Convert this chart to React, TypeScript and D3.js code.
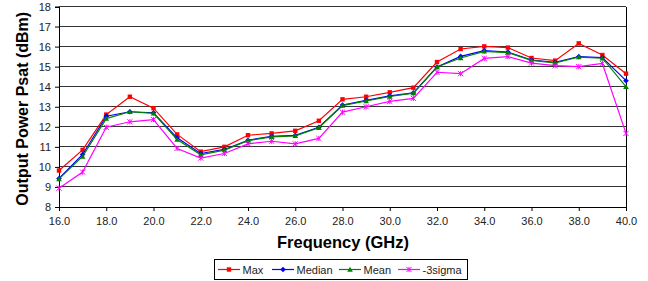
import {useRef, useEffect} from 'react'
import * as d3 from 'd3'

const freqs = [16,17,18,19,20,21,22,23,24,25,26,27,28,29,30,31,32,33,34,35,36,37,38,39,40]
const maxVals = [9.82,10.85,12.61,13.5,12.93,11.62,10.76,11.0,11.58,11.67,11.8,12.3,13.37,13.5,13.72,13.95,15.23,15.88,16.01,15.95,15.43,15.3,16.16,15.58,14.65]
const medianVals = [9.42,10.62,12.53,12.75,12.7,11.45,10.67,10.87,11.33,11.53,11.57,11.98,13.09,13.32,13.54,13.69,14.98,15.51,15.8,15.73,15.33,15.21,15.5,15.45,14.3]
const meanVals = [9.4,10.52,12.41,12.75,12.67,11.37,10.6,10.84,11.31,11.5,11.55,11.95,13.06,13.29,13.51,13.68,14.98,15.43,15.76,15.7,15.31,15.19,15.48,15.42,14.0]
const sigmaVals = [8.94,9.74,11.98,12.25,12.36,10.92,10.44,10.67,11.15,11.28,11.15,11.42,12.73,13.0,13.27,13.42,14.72,14.65,15.41,15.5,15.18,15.05,15.0,15.16,11.67]
const xTicks = [16,18,20,22,24,26,28,30,32,34,36,38,40]
const yTicks = [8,9,10,11,12,13,14,15,16,17,18]

const series = [
  {name: 'Max', values: maxVals, color: '#ff0000', marker: 'square'},
  {name: 'Median', values: medianVals, color: '#0000ff', marker: 'diamond'},
  {name: 'Mean', values: meanVals, color: '#008000', marker: 'triangle'},
  {name: '-3sigma', values: sigmaVals, color: '#ff00ff', marker: 'star'},
]

function drawMarker(g: any, kind: string, x: number, y: number, color: string) {
  if (kind === 'square') {
    g.append('rect').attr('x', x - 2.2).attr('y', y - 2.2).attr('width', 4.4).attr('height', 4.4).attr('fill', color)
  } else if (kind === 'diamond') {
    g.append('path').attr('d', `M${x},${y-2.8}L${x+2.8},${y}L${x},${y+2.8}L${x-2.8},${y}Z`).attr('fill', color)
  } else if (kind === 'triangle') {
    g.append('path').attr('d', `M${x},${y-2.8}L${x+2.8},${y+2.2}L${x-2.8},${y+2.2}Z`).attr('fill', color)
  } else {
    g.append('path').attr('d', `M${x-2.6},${y-2.6}L${x+2.6},${y+2.6}M${x-2.6},${y+2.6}L${x+2.6},${y-2.6}M${x},${y-2.6}L${x},${y+2.6}`)
      .attr('stroke', color).attr('stroke-width', 1).attr('fill', 'none')
  }
}

function App() {
  const ref = useRef<SVGSVGElement>(null)
  useEffect(() => {
    const svg = d3.select(ref.current)
    svg.selectAll('*').remove()
    const font = 'Liberation Sans, Arial, sans-serif'

    const x = d3.scaleLinear().domain([16, 40]).range([59, 626])
    const y = d3.scaleLinear().domain([8, 18]).range([207, 6.5])

    // gridlines
    svg.append('g').selectAll('line').data(yTicks.slice(1)).enter().append('line')
      .attr('x1', x(16)).attr('x2', x(40))
      .attr('y1', d => y(d)).attr('y2', d => y(d))
      .attr('stroke', '#333').attr('stroke-width', 1).attr('shape-rendering', 'crispEdges')
    // right border
    svg.append('line').attr('x1', x(40)).attr('x2', x(40)).attr('y1', y(18)).attr('y2', y(8))
      .attr('stroke', '#000').attr('shape-rendering', 'crispEdges')

    const yAxis = svg.append('g').attr('transform', `translate(${x(16)},0)`)
      .call(d3.axisLeft(y).tickValues(yTicks).tickSize(4).tickFormat(d3.format('d')))
    yAxis.select('.domain').attr('stroke', '#000').attr('shape-rendering', 'crispEdges')
    yAxis.selectAll('.tick line').attr('stroke', '#000')
    yAxis.selectAll('text').style('font', `11px ${font}`).attr('fill', '#222').attr('x', -8)

    const xAxis = svg.append('g').attr('transform', `translate(0,${y(8)})`)
      .call(d3.axisBottom(x).tickValues(xTicks).tickSize(4).tickFormat(d3.format('.1f')))
    xAxis.select('.domain').attr('stroke', '#000').attr('shape-rendering', 'crispEdges')
    xAxis.selectAll('.tick line').attr('stroke', '#000')
    xAxis.selectAll('text').style('font', `11px ${font}`).attr('fill', '#222').attr('y', 10)

    const line = d3.line<number>().x((d, i) => x(freqs[i])).y(d => y(d))
    series.forEach(s => {
      const g = svg.append('g')
      g.append('path').datum(s.values).attr('d', line).attr('fill', 'none')
        .attr('stroke', s.color).attr('stroke-width', 1.2)
      s.values.forEach((v, i) => drawMarker(g, s.marker, x(freqs[i]), y(v), s.color))
    })

    svg.append('text')
      .attr('transform', `translate(28,${(y(8) + y(18)) / 2 + 2})rotate(-90)`)
      .attr('text-anchor', 'middle')
      .style('font', `bold 16px ${font}`)
      .text('Output Power Psat (dBm)')

    svg.append('text')
      .attr('x', 343).attr('y', 248)
      .attr('text-anchor', 'middle')
      .style('font', `bold 16.5px ${font}`)
      .text('Frequency (GHz)')

    // legend
    const lg = svg.append('g')
    lg.append('rect').attr('x', 214.5).attr('y', 259.5).attr('width', 253).attr('height', 20)
      .attr('fill', '#fff').attr('stroke', '#000')
    const lx = [218, 272, 339, 398]
    series.forEach((s, i) => {
      lg.append('line').attr('x1', lx[i]).attr('x2', lx[i] + 22).attr('y1', 269.5).attr('y2', 269.5)
        .attr('stroke', s.color).attr('stroke-width', 1.2)
      drawMarker(lg, s.marker, lx[i] + 11, 269.5, s.color)
      lg.append('text').attr('x', lx[i] + 24.5).attr('y', 273.5)
        .style('font', `11px ${font}`).attr('fill', '#222').text(s.name)
    })
  }, [])

  return (
    <svg ref={ref} width={648} height={281}
      style={{position: 'absolute', left: 0, top: 0, background: '#fff'}} />
  )
}

export default App
